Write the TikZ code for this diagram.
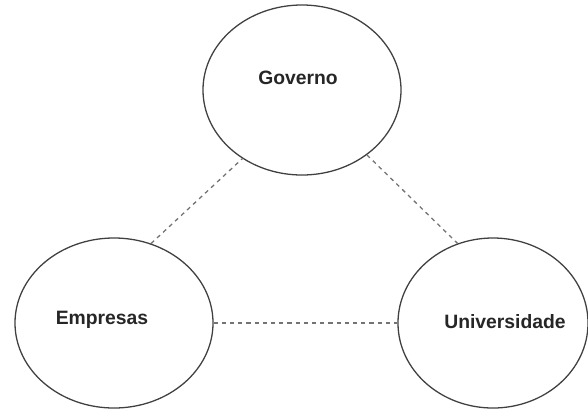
\documentclass[tikz,border=0pt]{standalone}
\usepackage{fontspec}
\setmainfont{Liberation Sans}
\usetikzlibrary{shapes.geometric}
\tikzset{
  actor/.style={ellipse,draw=black!75,line width=1.1pt,inner sep=0pt,
    minimum width=5.94cm,minimum height=5.1cm},
  actorname/.style={font=\fontsize{16.5}{19}\selectfont\bfseries,text=black!85,inner sep=0pt},
  link/.style={draw=black!55,line width=1.1pt,dash pattern=on 3.5pt off 3.5pt}
}
\begin{document}
\begin{tikzpicture}[x=0.03cm,y=-0.03cm]
  \useasboundingbox (0,0) rectangle (588,410);
  \node[actor] (gov) at (302,90) {};
  \node[actor] (emp) at (114,323) {};
  \node[actor,minimum width=5.7cm] (univ) at (493,323) {};
  \node[actorname] (govtxt) at (298,78) {Governo};
  \node[actorname] (emptxt) at (102,320) {Empresas};
  \node[actorname] (univtxt) at (505,322) {Universidade};
  \draw[link] (emp.65) -- (gov.229);
  \draw[link] (gov.315) -- (univ.114);
  \draw[link] (emp.0) -- (univ.180);
\end{tikzpicture}
\end{document}
